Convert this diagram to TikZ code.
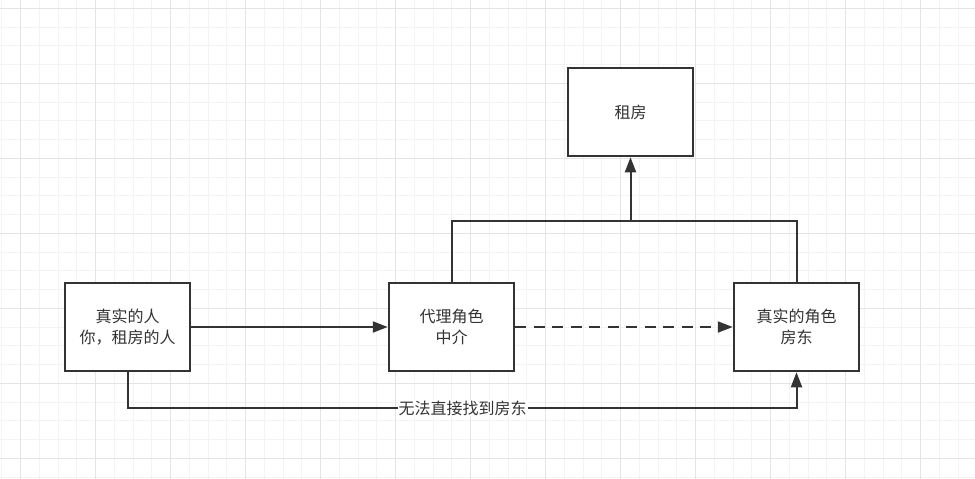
\documentclass[tikz,border=0pt]{standalone}
\usepackage{fontspec}
\setmainfont{Noto Sans CJK SC}
\usetikzlibrary{arrows.meta}
\definecolor{ink}{HTML}{333333}
\definecolor{gridminor}{HTML}{F3F3F3}
\definecolor{gridmajor}{HTML}{E4E4E4}
\begin{document}
\begin{tikzpicture}[x=1pt,y=-1pt,
  box/.style={draw=ink,line width=2.5pt,fill=white,minimum width=125pt,minimum height=88pt,
    inner sep=0pt,align=center,text=ink,font=\fontsize{16pt}{21pt}\selectfont},
  conn/.style={draw=ink,line width=2pt},
  arr/.style={conn,-{Triangle[length=15pt,width=11pt]}},
  lbl/.style={fill=white,text=ink,inner sep=1pt,font=\fontsize{16pt}{21pt}\selectfont}]
\useasboundingbox (0,0) rectangle (975,479);
\fill[white] (0,0) rectangle (975,479);
% grid
\foreach \i in {0,...,52} {
  \pgfmathsetmacro{\gx}{1.95+18.75*\i}
  \draw[gridminor,line width=1pt] (\gx,0) -- (\gx,479);
}
\foreach \i in {0,...,26} {
  \pgfmathsetmacro{\gy}{8.3+18.75*\i}
  \draw[gridminor,line width=1pt] (0,\gy) -- (975,\gy);
}
\foreach \i in {0,...,13} {
  \pgfmathsetmacro{\gx}{20.7+75*\i}
  \draw[gridmajor,line width=1pt] (\gx,0) -- (\gx,479);
}
\foreach \i in {0,...,6} {
  \pgfmathsetmacro{\gy}{8.3+75*\i}
  \draw[gridmajor,line width=1pt] (0,\gy) -- (975,\gy);
}
% nodes
\node[box] (A) at (127.5,327) {真实的人\\你，租房的人};
\node[box] (B) at (451.5,327) {代理角色\\中介};
\node[box] (C) at (796.5,327) {真实的角色\\房东};
\node[box] (D) at (630.5,112) {租房};
\coordinate (j) at (630.5,220.5);
\coordinate (b) at (462.5,408);
% connectors
\draw[arr] (A.east) -- (B.west);
\draw[arr,dash pattern=on 11pt off 7.5pt] (B.east) -- (C.west);
\draw[conn] (B.north) |- (j) -| (C.north);
\draw[arr] (j) -- (D.south);
\draw[arr] (A.south) |- (b) -| (C.south);
\node[lbl] (L) at (b) {无法直接找到房东};
\end{tikzpicture}
\end{document}
